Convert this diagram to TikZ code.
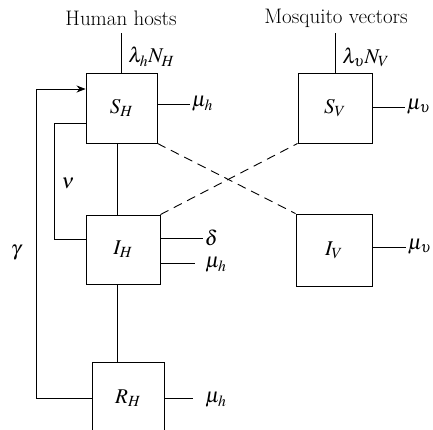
\documentclass[tikz,border=0pt]{standalone}
\usepackage{mathptmx}
\usetikzlibrary{arrows.meta}
\begin{document}
\begin{tikzpicture}[x=1pt,y=-1pt,line width=0.9pt,
  every node/.style={font=\fontsize{21}{25}\selectfont},
  box/.style={draw,inner sep=0pt},
  lab/.style={inner sep=1pt},
  dsh/.style={dash pattern=on 9pt off 6pt}]
\useasboundingbox (0,0) rectangle (433,429);
% boxes
\node[box,minimum width=71pt,minimum height=70pt] (SH) at (121.5,108) {$S_H$};
\node[box,minimum width=74pt,minimum height=70pt] (SV) at (335,108) {$S_V$};
\node[box,minimum width=74pt,minimum height=69pt] (IH) at (123,249.5) {$I_H$};
\node[box,minimum width=76pt,minimum height=72pt] (IV) at (334,250) {$I_V$};
\node[box,minimum width=72pt,minimum height=72pt] (RH) at (128,398) {$R_H$};
% titles
\node (hh) at (121,18) {Human hosts};
\node (mv) at (336,18) {Mosquito vectors};
% inflows
\draw (SH.north) -- ++(0,-40) coordinate (sht);
\node[lab,anchor=west] (lamH) at (127,57) {$\lambda_h N_H$};
\draw (SV.north) -- ++(0,-40) coordinate (svt);
\node[lab,anchor=west] (lamV) at (341,57) {$\lambda_\upsilon N_V$};
% outflows
\draw ([yshift=4pt]SH.east) -- ++(33,0) node[lab,right] (m1) {$\mu_h$};
\draw ([yshift=1pt]SV.east) -- ++(33,0) node[lab,right] (m2) {$\mu_\upsilon$};
\draw ([yshift=11.5pt]IH.east) -- ++(43,0) node[lab,right] (d1) {$\delta$};
\draw ([yshift=-13.5pt]IH.east) -- ++(35,0) coordinate (m3c);
\node[lab,anchor=west] (m3) at (204,265) {$\mu_h$};
\draw ([yshift=3pt]IV.east) -- ++(34,0) node[lab,right] (m4) {$\mu_\upsilon$};
\draw (RH.east) -- ++(29,0) coordinate (m5c);
\node[lab,anchor=west] (m5) at (204,400) {$\mu_h$};
% vertical chain
\coordinate (vx) at (117,0);
\draw (SH.south -| vx) -- (IH.north -| vx);
\draw (IH.south -| vx) -- (RH.north -| vx);
% nu loop
\draw ([yshift=-15pt]SH.west) -- ++(-31,0) coordinate (nuc) |- ([yshift=10.5pt]IH.west);
\node (nu) at (68,183) {$\nu$};
% gamma loop
\draw[-{Stealth[length=9pt,width=7pt]}] (RH.west) -- ++(-55,0) coordinate (gc) |- ([yshift=19pt]SH.west);
\node (ga) at (16,253) {$\gamma$};
% dashed transmission
\draw[dsh] (SH.south east) -- (IV.north west);
\draw[dsh] (IH.north east) -- (SV.south west);
\end{tikzpicture}
\end{document}
